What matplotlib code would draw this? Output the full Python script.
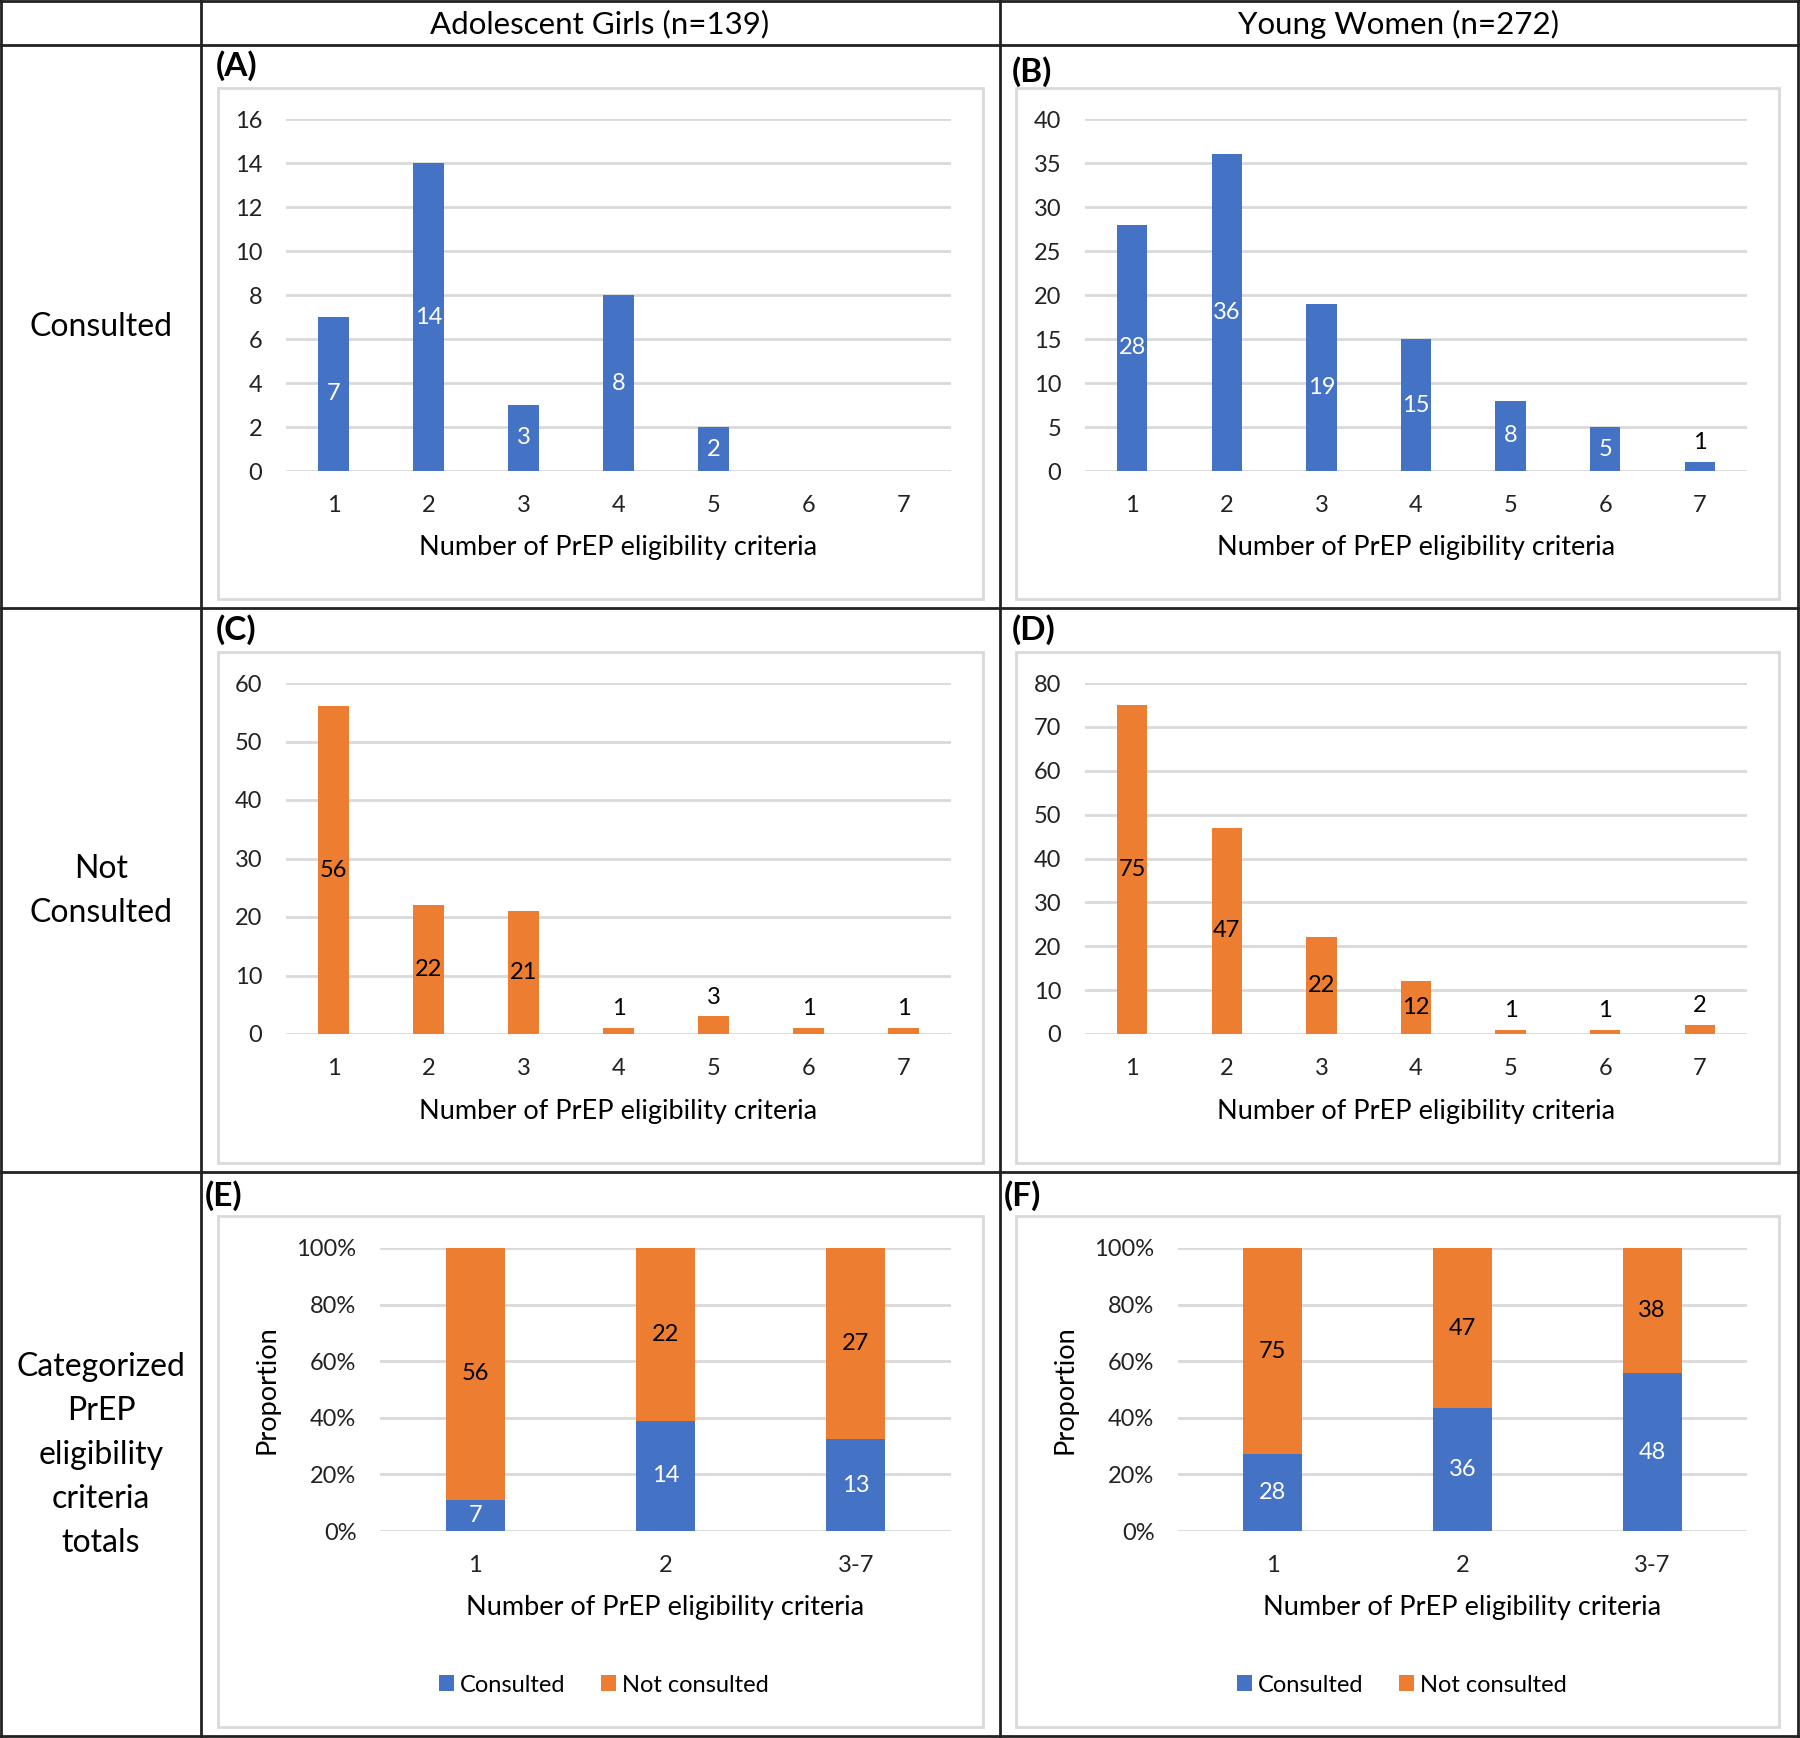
import matplotlib
matplotlib.use("Agg")
import matplotlib.pyplot as plt
from matplotlib.lines import Line2D
from matplotlib.patches import Rectangle
from matplotlib.ticker import PercentFormatter

plt.rcParams['font.family'] = ['Lato', 'DejaVu Sans']

# data
criteria = ['1', '2', '3', '4', '5', '6', '7']
girls_consulted = [7, 14, 3, 8, 2, 0, 0]
women_consulted = [28, 36, 19, 15, 8, 5, 1]
girls_not = [56, 22, 21, 1, 3, 1, 1]
women_not = [75, 47, 22, 12, 1, 1, 2]

groups = ['1', '2', '3-7']
girls_cat_consulted = [7, 14, 13]
girls_cat_not = [56, 22, 27]
women_cat_consulted = [28, 36, 48]
women_cat_not = [75, 47, 38]

col_titles = ['Adolescent Girls (n=139)', 'Young Women (n=272)']
row_titles = ['Consulted', 'Not\nConsulted', 'Categorized\nPrEP\neligibility\ncriteria\ntotals']

BLUE = '#4472C4'
ORANGE = '#ED7D31'
GRID = '#D9D9D9'
W, H = 1800, 1738
XLAB = 'Number of PrEP eligibility criteria'
FS = 17

fig = plt.figure(figsize=(W / 100, H / 100), dpi=100)


def fx(x):
    return x / W


def fy(y):
    return 1 - y / H


def add_ax(x0, y0, x1, y1):
    return fig.add_axes([fx(x0), fy(y1), (x1 - x0) / W, (y1 - y0) / H])


def style(ax, ymax, step):
    for s in ax.spines.values():
        s.set_visible(False)
    ax.set_ylim(0, ymax)
    ax.set_yticks(range(0, ymax + 1, step))
    ax.yaxis.grid(True, color=GRID, lw=2)
    ax.set_axisbelow(True)
    ax.tick_params(length=0, labelsize=FS, pad=17, colors='#222222')


def set_xlab(ax):
    ax.set_xlabel(XLAB, fontsize=19.5)
    bbox = ax.get_position()
    ax.xaxis.set_label_coords(0.5, -77 / (bbox.height * H))
    ax.xaxis.label.set_va('center')


def count_panel(ax, vals, color, txtcolor, ymax, step):
    style(ax, ymax, step)
    x = list(range(len(criteria)))
    ax.bar(x, vals, width=0.32, color=color, zorder=3)
    ax.set_xlim(-0.5, len(criteria) - 0.5)
    ax.set_xticks(x)
    ax.set_xticklabels(criteria)
    for xi, v in zip(x, vals):
        if v == 0:
            continue
        if v / ymax < 0.1:
            ax.text(xi, v + ymax * 0.025, str(v), ha='center', va='bottom',
                    fontsize=FS, color='black', zorder=4)
        else:
            ax.text(xi, v / 2, str(v), ha='center', va='center',
                    fontsize=FS, color=txtcolor, zorder=4)
    set_xlab(ax)


def prop_panel(ax, cons, notc, legend_x):
    style(ax, 100, 20)
    ax.yaxis.set_major_formatter(PercentFormatter(decimals=0))
    x = list(range(len(groups)))
    tot = [a + b for a, b in zip(cons, notc)]
    pc = [a / t * 100 for a, t in zip(cons, tot)]
    pn = [b / t * 100 for b, t in zip(notc, tot)]
    b1 = ax.bar(x, pc, width=0.31, color=BLUE, zorder=3, label='Consulted')
    b2 = ax.bar(x, pn, width=0.31, bottom=pc, color=ORANGE, zorder=3, label='Not consulted')
    ax.set_xlim(-0.5, len(groups) - 0.5)
    ax.set_xticks(x)
    ax.set_xticklabels(groups)
    for xi, a, b, p, q in zip(x, cons, notc, pc, pn):
        ax.text(xi, p / 2, str(a), ha='center', va='center', fontsize=FS, color='white', zorder=4)
        ax.text(xi, p + q / 2, str(b), ha='center', va='center', fontsize=FS, color='black', zorder=4)
    set_xlab(ax)
    ax.set_ylabel('Proportion', fontsize=19.5, labelpad=12)
    fig.legend(handles=[b1, b2], loc='center', bbox_to_anchor=(fx(legend_x), fy(1685)),
               ncol=2, frameon=False, fontsize=FS, handlelength=0.65, handleheight=0.65,
               handletextpad=0.25, columnspacing=1.5)


# table grid
lw = 2
for xv in [1, 201, 1000, 1798]:
    fig.add_artist(Line2D([fx(xv), fx(xv)], [fy(0), fy(H - 1)], color='#222222', lw=lw))
for yv in [1, 45, 608, 1172, 1736]:
    fig.add_artist(Line2D([fx(0), fx(W)], [fy(yv), fy(yv)], color='#222222', lw=lw))

fig.text(fx(600), fy(24), col_titles[0], ha='center', va='center', fontsize=22.5)
fig.text(fx(1398), fy(24), col_titles[1], ha='center', va='center', fontsize=22.5)
for t, yc in zip(row_titles, [327, 891, 1455]):
    fig.text(fx(101), fy(yc), t, ha='center', va='center', fontsize=23, linespacing=1.58)

# chart area boxes
for x0, x1 in [(218, 983), (1016, 1779)]:
    for y0, y1 in [(88, 599), (652, 1163), (1216, 1727)]:
        fig.add_artist(Rectangle((fx(x0), fy(y1)), (x1 - x0) / W, (y1 - y0) / H,
                                 fill=False, edgecolor=GRID, lw=2))

panel_lbl = [('(A)', 216, 66), ('(B)', 1012, 72), ('(C)', 216, 630),
             ('(D)', 1012, 630), ('(E)', 205, 1196), ('(F)', 1004, 1196)]
for t, x, y in panel_lbl:
    fig.text(fx(x), fy(y), t, ha='left', va='center', fontsize=24, fontweight='bold')

axA = add_ax(286, 119, 951, 471)
count_panel(axA, girls_consulted, BLUE, 'white', 16, 2)
axB = add_ax(1085, 119, 1747, 471)
count_panel(axB, women_consulted, BLUE, 'white', 40, 5)
axC = add_ax(286, 683, 951, 1034)
count_panel(axC, girls_not, ORANGE, 'black', 60, 10)
axD = add_ax(1085, 683, 1747, 1034)
count_panel(axD, women_not, ORANGE, 'black', 80, 10)
axE = add_ax(380, 1248, 951, 1531)
prop_panel(axE, girls_cat_consulted, girls_cat_not, 604)
axF = add_ax(1178, 1248, 1747, 1531)
prop_panel(axF, women_cat_consulted, women_cat_not, 1402)

fig.savefig('out.png', dpi=100)
